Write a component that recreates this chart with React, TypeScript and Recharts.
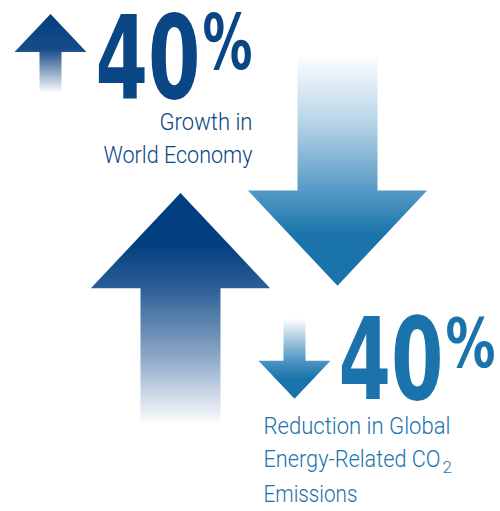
import { ComposedChart, Bar, XAxis, YAxis } from 'recharts'

// two headline changes drawn as a floating range bar each
const categories = ['Growth in World Economy', 'Reduction in Global Energy-Related CO2 Emissions']
const startValues = [0, 64]
const changes = [40, -40]
const captionLines = [
  ['Growth in', 'World Economy'],
  ['Reduction in Global', 'Energy-Related CO_2', 'Emissions'],
]

const data = categories.map((name, i) => ({
  name,
  start: startValues[i],
  change: changes[i],
  caption: captionLines[i],
}))

const NAVY = '#0a4584'
const BLUE = '#1a73aa'
const BIG_FONT = "'Liberation Sans Narrow', 'DejaVu Sans Condensed', 'Liberation Sans', sans-serif"
const CAPTION_FONT = "Roboto, 'Liberation Sans Narrow', sans-serif"

// callout placement relative to the big arrow (layout only)
const CALLOUTS = [
  {
    dx: -130, dy: -179, color: NAVY,
    num: { dx: 45, dy: 84, size: 116, len: 105 },
    pct: { dx: 152, dy: 55, size: 76, len: 50 },
    cap: { dx: 202, anchor: 'end', lines: [116, 149], lens: [93, 149] },
  },
  {
    dx: -43, dy: 33, color: BLUE,
    num: { dx: 44, dy: 80, size: 114, len: 105 },
    pct: { dx: 151, dy: 48, size: 68, len: 50 },
    cap: { dx: -31, anchor: 'start', lines: [115, 148, 183], lens: [187, 177, 94] },
  },
]

function arrowPoints(cx: number, top: number, bottom: number, half: number, headHalf: number, headLen: number, up: boolean) {
  const pts = up
    ? [[cx, top], [cx + headHalf, top + headLen], [cx + half, top + headLen], [cx + half, bottom],
       [cx - half, bottom], [cx - half, top + headLen], [cx - headHalf, top + headLen]]
    : [[cx, bottom], [cx + headHalf, bottom - headLen], [cx + half, bottom - headLen], [cx + half, top],
       [cx - half, top], [cx - half, bottom - headLen], [cx - headHalf, bottom - headLen]]
  return pts.map(p => p.join(',')).join(' ')
}

function Callout({ ox, oy, up, layout, change, caption }: any) {
  const small = up
    ? arrowPoints(ox, oy, oy + 79, 11, 36, 38, true)
    : arrowPoints(ox, oy, oy + 80, 11, 36, 38, false)
  return (
    <g>
      <polygon points={small} fill={`url(#${up ? 'smallUp' : 'smallDown'})`} />
      <text
        x={ox + layout.num.dx}
        y={oy + layout.num.dy}
        fontFamily={BIG_FONT}
        fontWeight={700}
        fontSize={layout.num.size}
        fill={layout.color}
        textLength={layout.num.len}
        lengthAdjust="spacingAndGlyphs"
      >
        {Math.abs(change)}
      </text>
      <text
        x={ox + layout.pct.dx}
        y={oy + layout.pct.dy}
        fontFamily={BIG_FONT}
        fontWeight={700}
        fontSize={layout.pct.size}
        fill={layout.color}
        textLength={layout.pct.len}
        lengthAdjust="spacingAndGlyphs"
      >
        %
      </text>
      {caption.map((line: string, i: number) => {
        const [main, sub] = line.split('_')
        const x = ox + layout.cap.dx
        const y = oy + layout.cap.lines[i]
        return (
          <g key={line}>
            <text
              x={x}
              y={y}
              textAnchor={layout.cap.anchor}
              fontFamily={CAPTION_FONT}
              fontWeight={300}
              fontSize={24}
              fill={layout.color}
              textLength={layout.cap.lens[i]}
              lengthAdjust="spacingAndGlyphs"
            >
              {main}
            </text>
            {sub && (
              <text
                x={x + layout.cap.lens[i] + 2}
                y={y + 6}
                fontFamily={CAPTION_FONT}
                fontWeight={300}
                fontSize={17}
                fill={layout.color}
              >
                {sub}
              </text>
            )}
          </g>
        )
      })}
    </g>
  )
}

function ArrowShape(props: any) {
  const { x, y, width, height, payload, index } = props
  if (x == null || y == null || !payload) return null
  const top = Math.min(y, y + height)
  const bottom = Math.max(y, y + height)
  const cx = x + width / 2
  const up = payload.change > 0
  const layout = CALLOUTS[index ?? (up ? 0 : 1)]
  const pts = arrowPoints(cx, top, bottom, width / 2, width * 1.12, width * 1.19, up)
  return (
    <g>
      <polygon points={pts} fill={`url(#${up ? 'bigUp' : 'bigDown'})`} />
      <Callout
        ox={cx + layout.dx}
        oy={(up ? top : bottom) + layout.dy}
        up={up}
        layout={layout}
        change={payload.change}
        caption={payload.caption}
      />
    </g>
  )
}

export default function App() {
  return (
    <div style={{ position: 'absolute', left: 0, top: 0, width: 500, height: 511, background: '#fff' }}>
      <ComposedChart
        width={500}
        height={511}
        data={data}
        margin={{ top: 19, right: 84.5, bottom: 86, left: 101.5 }}
      >
        <defs>
          <linearGradient id="bigUp" x1="0" y1="0" x2="0" y2="1">
            <stop offset="0" stopColor="#003f7f" />
            <stop offset="0.22" stopColor="#023f80" />
            <stop offset="0.41" stopColor="#2d5f95" />
            <stop offset="0.7" stopColor="#8aa6c6" />
            <stop offset="1" stopColor="#ffffff" />
          </linearGradient>
          <linearGradient id="bigDown" x1="0" y1="0" x2="0" y2="1">
            <stop offset="0" stopColor="#ffffff" />
            <stop offset="0.3" stopColor="#b6d3e7" />
            <stop offset="0.59" stopColor="#559ac6" />
            <stop offset="0.78" stopColor="#1a74aa" />
            <stop offset="1" stopColor="#1a73aa" />
          </linearGradient>
          <linearGradient id="smallUp" x1="0" y1="0" x2="0" y2="1">
            <stop offset="0" stopColor="#003f7f" />
            <stop offset="0.45" stopColor="#174c89" />
            <stop offset="1" stopColor="#ffffff" />
          </linearGradient>
          <linearGradient id="smallDown" x1="0" y1="0" x2="0" y2="1">
            <stop offset="0" stopColor="#ffffff" />
            <stop offset="0.52" stopColor="#4e95c3" />
            <stop offset="0.75" stopColor="#1a74aa" />
            <stop offset="1" stopColor="#1a73aa" />
          </linearGradient>
        </defs>
        <XAxis dataKey="name" type="category" hide />
        <YAxis type="number" domain={[0, 70]} hide />
        <Bar
          dataKey={(d: any) => [d.start, d.start + d.change]}
          barSize={80}
          shape={<ArrowShape />}
          isAnimationActive={false}
        />
      </ComposedChart>
    </div>
  )
}
